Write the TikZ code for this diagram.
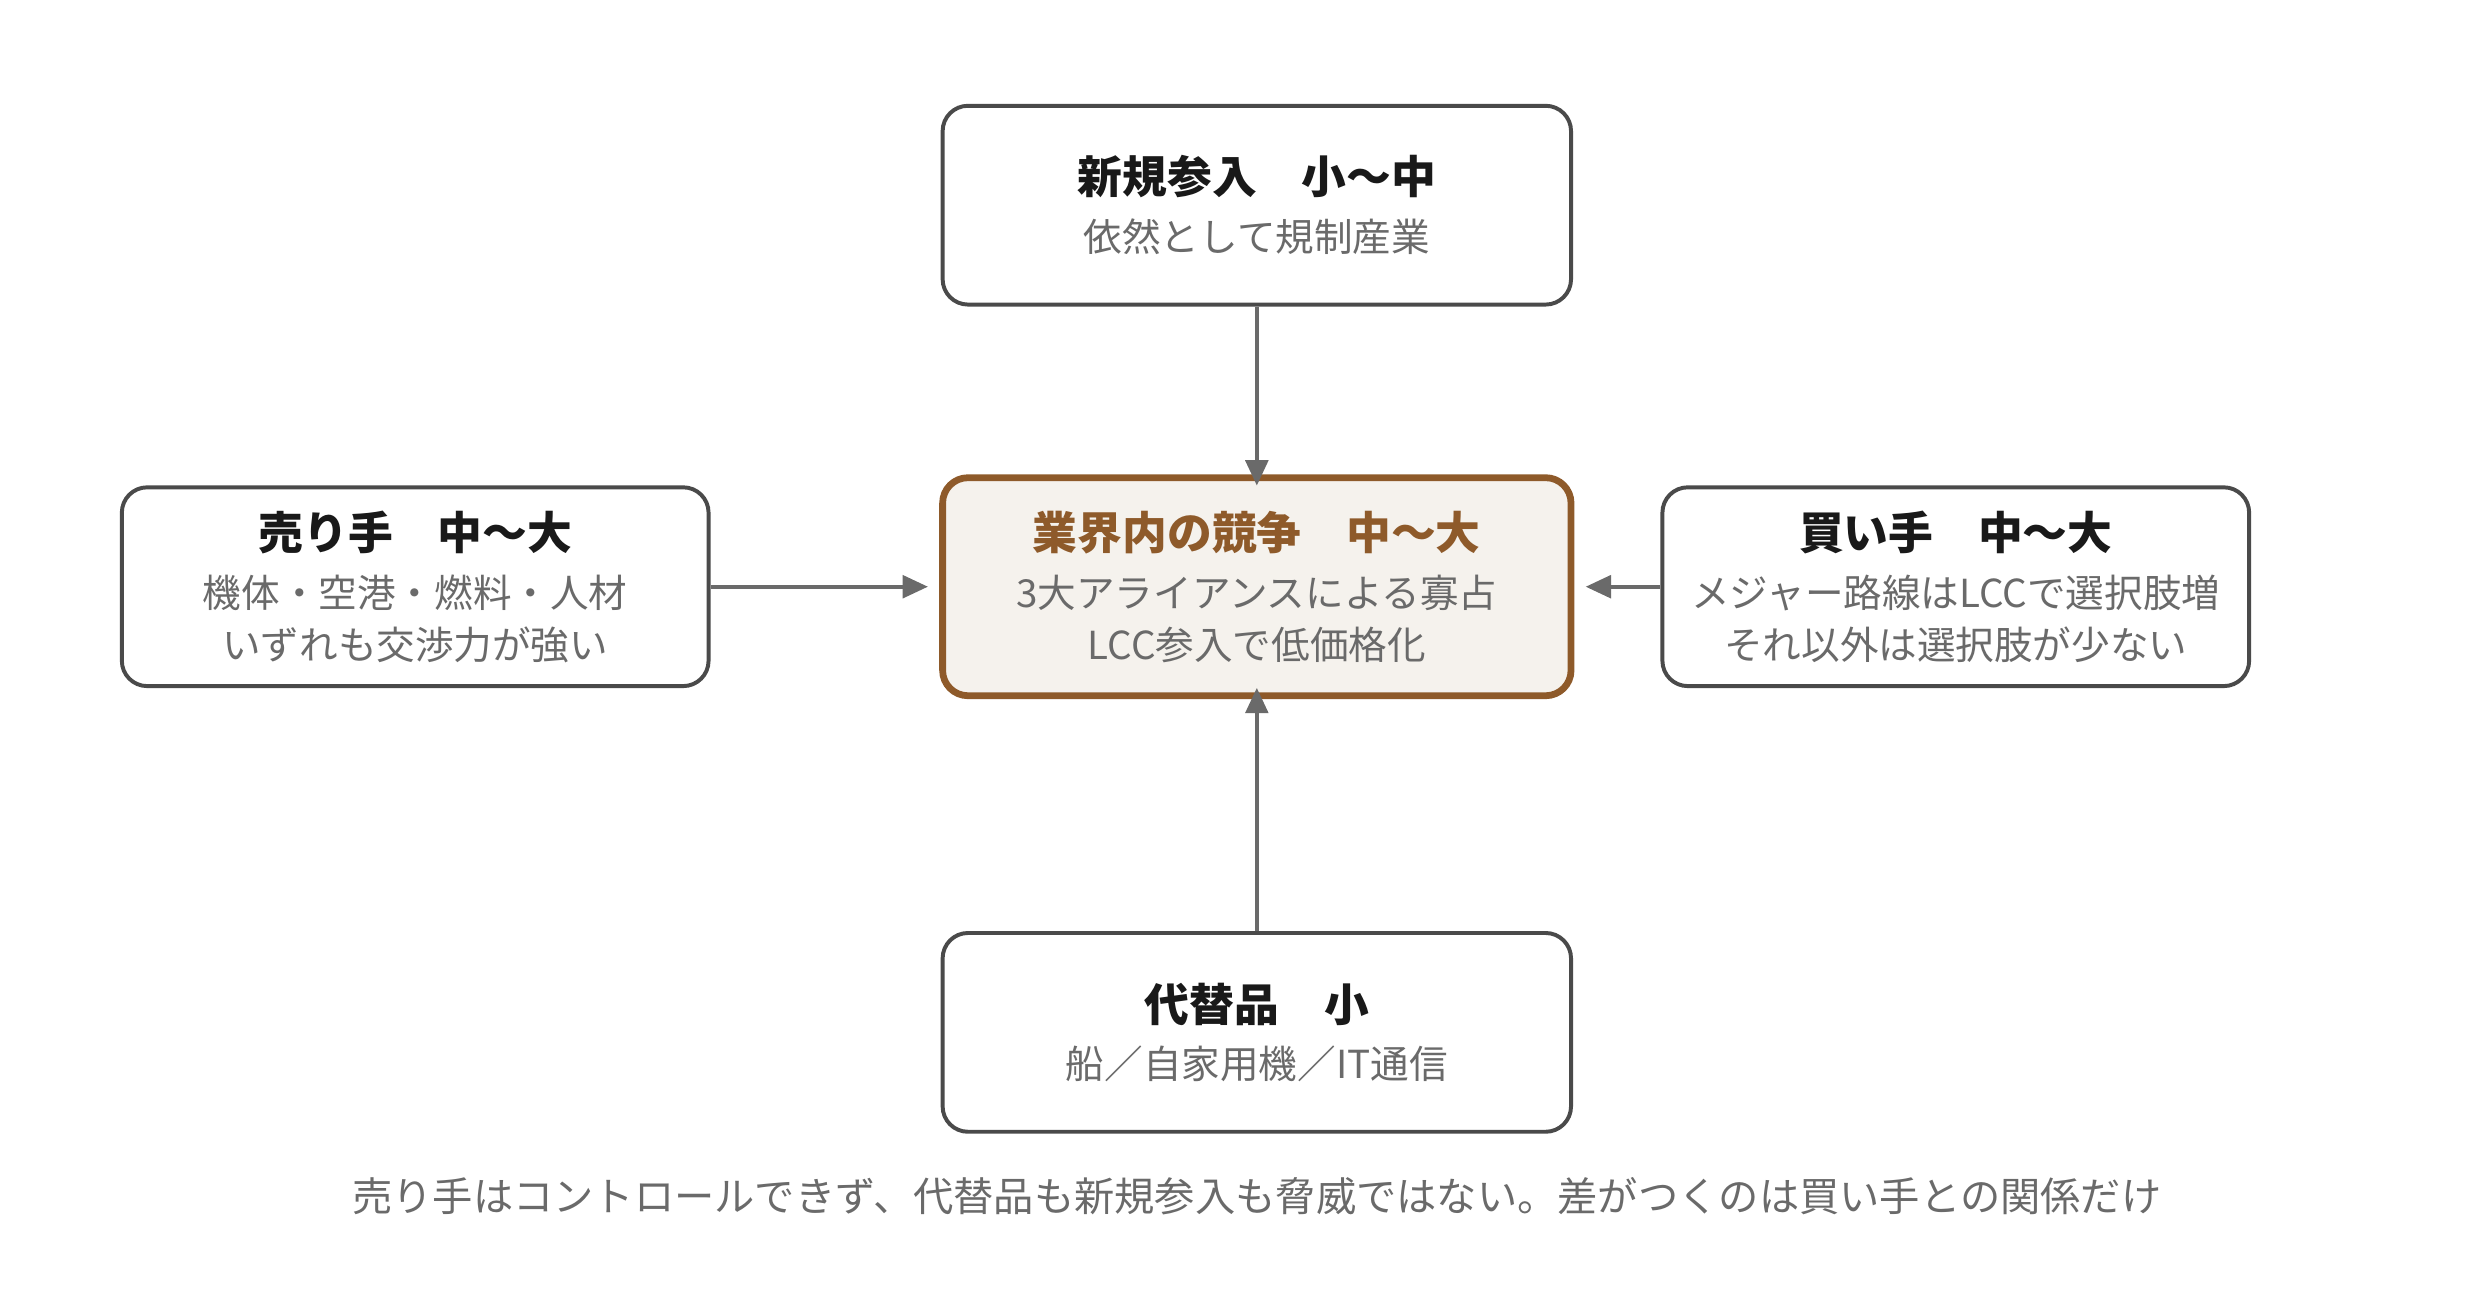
\documentclass[tikz,border=0pt]{standalone}
\usepackage{fontspec}
\setmainfont{Noto Sans CJK JP}
\usetikzlibrary{positioning, arrows.meta}
\definecolor{edge}{HTML}{4A4A4A}
\definecolor{brown}{HTML}{8E5A2A}
\definecolor{paper}{HTML}{F5F2ED}
\definecolor{note}{HTML}{6A6A6A}
\tikzset{
  force/.style={draw=edge, line width=1.4pt, rounded corners=9pt, fill=white,
    minimum width=392*0.02cm, minimum height=124*0.02cm, align=center, text=note,
    font=\fontsize{13.7}{18.5}\selectfont},
  flow/.style={-{Triangle[length=9pt, width=8pt]}, draw=note, line width=1.4pt},
}
\newcommand{\ttl}[1]{{\fontsize{15.9}{20}\selectfont\bfseries\color{black!90}#1}\\[2pt]}
\begin{document}
\begin{tikzpicture}[x=0.02cm, y=0.02cm]
    \useasboundingbox (0,0) rectangle (1552,814);
    % the five forces
    \node[force] (entry) at (784,686) {\ttl{新規参入　小〜中}依然として規制産業};
    \node[force, draw=brown, line width=2.4pt, fill=paper, minimum height=136*0.02cm] (rivalry) at (784,448)
        {{\fontsize{15.9}{20}\selectfont\bfseries\color{brown}業界内の競争　中〜大}\\[2pt]3大アライアンスによる寡占\\LCC参入で低価格化};
    \node[force, minimum width=366*0.02cm] (supplier) at (259,448) {\ttl{売り手　中〜大}機体・空港・燃料・人材\\いずれも交渉力が強い};
    \node[force, minimum width=366*0.02cm] (buyer) at (1220,448) {\ttl{買い手　中〜大}メジャー路線はLCCで選択肢増\\それ以外は選択肢が少ない};
    \node[force] (subst) at (784,170) {\ttl{代替品　小}船／自家用機／IT通信};
    % arrows
    \draw[flow] (entry) -- ([yshift=-4pt]rivalry.north);
    \draw[flow] (supplier) -- ([xshift=-4pt]rivalry.west);
    \draw[flow] (buyer) -- ([xshift=4pt]rivalry.east);
    \draw[flow] (subst) -- ([yshift=4pt]rivalry.south);
    \node[text=note, font=\fontsize{14.3}{18}\selectfont] (summary) at (784,68)
        {売り手はコントロールできず、代替品も新規参入も脅威ではない。差がつくのは買い手との関係だけ};
\end{tikzpicture}
\end{document}
